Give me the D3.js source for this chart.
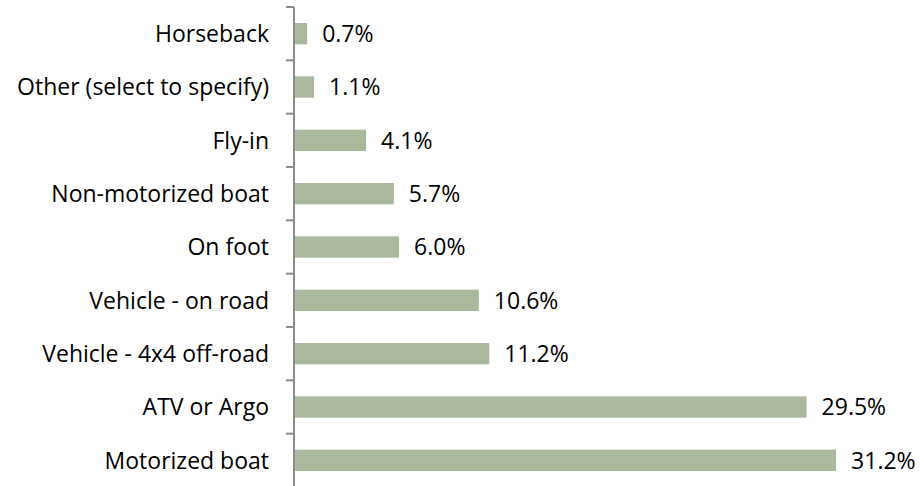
<!DOCTYPE html>
<html>
<head>
<meta charset="utf-8">
<script src="https://cdn.jsdelivr.net/npm/d3@7"></script>
<style>
  body { margin: 0; background: #fff; }
  svg { display: block; }
</style>
</head>
<body>
<div id="chart"></div>
<script>
// Data
const categories = [
    "Horseback",
    "Other (select to specify)",
    "Fly-in",
    "Non-motorized boat",
    "On foot",
    "Vehicle - on road",
    "Vehicle - 4x4 off-road",
    "ATV or Argo",
    "Motorized boat"
];
const values = [0.7, 1.1, 4.1, 5.7, 6.0, 10.6, 11.2, 29.5, 31.2];

const width = 922, height = 486;
const font = "'Open Sans', sans-serif";
const fontSize = "23px";

const svg = d3.select("#chart")
    .append("svg")
    .attr("width", width)
    .attr("height", height);

const y = d3.scaleBand()
    .domain(categories)
    .range([7, 487])
    .paddingInner(0.6)
    .paddingOuter(0.3);

const x = d3.scaleLinear()
    .domain([0, 35])
    .range([295, 902]);

const data = categories.map((c, i) => ({ name: c, value: values[i] }));

// Bars
svg.selectAll(".bar")
    .data(data)
    .join("rect")
    .attr("class", "bar")
    .attr("x", x(0))
    .attr("y", d => y(d.name))
    .attr("width", d => x(d.value) - x(0))
    .attr("height", y.bandwidth())
    .attr("fill", "#aab99e");

// Axis line with ticks at category boundaries
const axisX = 294;
svg.append("line")
    .attr("x1", axisX).attr("x2", axisX)
    .attr("y1", 7).attr("y2", 487)
    .attr("stroke", "#8c8c8c")
    .attr("stroke-width", 2);

const boundaries = d3.range(categories.length + 1).map(i => 7 + i * y.step());
svg.selectAll(".tick")
    .data(boundaries)
    .join("line")
    .attr("class", "tick")
    .attr("x1", axisX - 8).attr("x2", axisX)
    .attr("y1", d => d).attr("y2", d => d)
    .attr("stroke", "#8c8c8c")
    .attr("stroke-width", 2);

// Category labels
svg.selectAll(".cat")
    .data(data)
    .join("text")
    .attr("class", "cat")
    .attr("x", 269)
    .attr("y", d => y(d.name) + y.bandwidth() / 2)
    .attr("dy", "0.36em")
    .attr("text-anchor", "end")
    .style("font-family", font)
    .style("font-size", fontSize)
    .style("fill", "#000")
    .text(d => d.name);

// Value labels
svg.selectAll(".val")
    .data(data)
    .join("text")
    .attr("class", "val")
    .attr("x", d => x(d.value) + 15)
    .attr("y", d => y(d.name) + y.bandwidth() / 2)
    .attr("dy", "0.36em")
    .style("font-family", font)
    .style("font-size", fontSize)
    .style("fill", "#000")
    .text(d => d.value.toFixed(1) + "%");
</script>
</body>
</html>
